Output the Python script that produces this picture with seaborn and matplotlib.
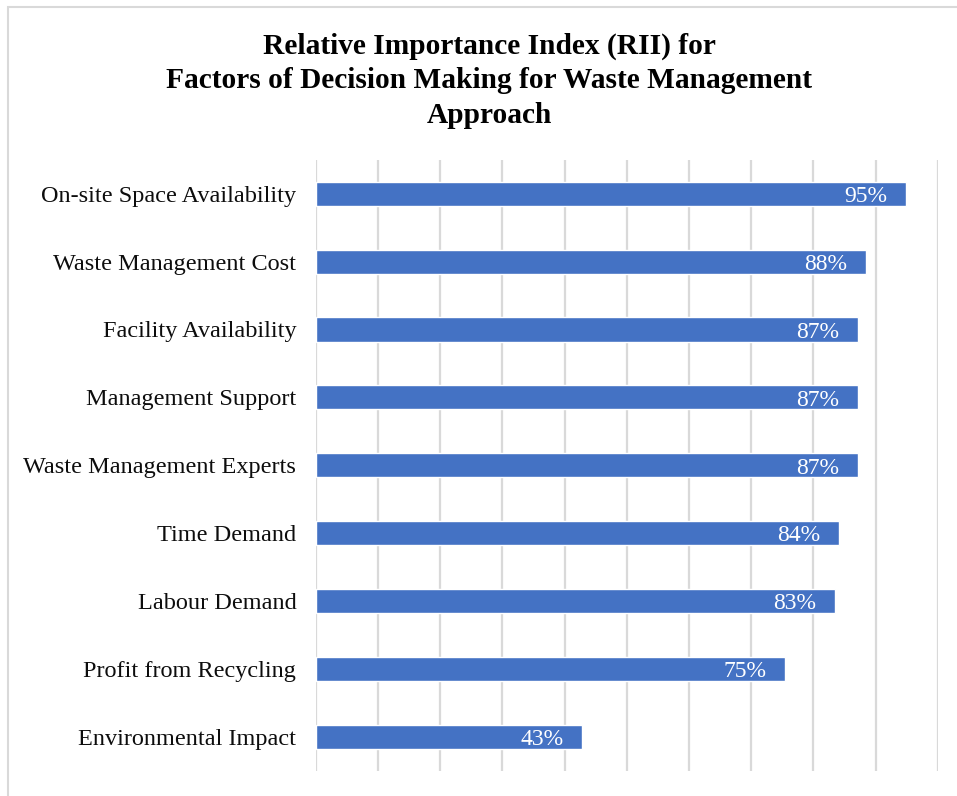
import pandas as pd
import seaborn as sns
import matplotlib.pyplot as plt
from matplotlib.patches import Rectangle

# chart data
factors = ["On-site Space Availability", "Waste Management Cost", "Facility Availability",
           "Management Support", "Waste Management Experts", "Time Demand",
           "Labour Demand", "Profit from Recycling", "Environmental Impact"]
rii = [0.949, 0.884, 0.871, 0.871, 0.871, 0.841, 0.834, 0.755, 0.428]
value_labels = ["95%", "88%", "87%", "87%", "87%", "84%", "83%", "75%", "43%"]

df = pd.DataFrame({"factor": factors, "rii": rii})

sns.set_theme(style="white")
plt.rcParams['font.family'] = ['Liberation Serif', 'DejaVu Serif']

fig = plt.figure(figsize=(9.57, 7.96), dpi=100)
ax = fig.add_axes([0.330, 0.0314, 0.650, 0.768])

sns.barplot(data=df, x="rii", y="factor", color="#4472C4", width=0.355,
            saturation=1, ax=ax, zorder=3)

ax.set_xlim(0, 1.0)
ax.set_ylim(8.5, -0.5)
ax.set_xticks([i / 10 for i in range(11)])
ax.set_xticklabels([])
ax.grid(axis="x", color="#d9d9d9", linewidth=1.6, zorder=0)
ax.grid(axis="y", visible=False)
for s in ax.spines.values():
    s.set_visible(False)
ax.tick_params(axis="both", length=0)
ax.set_xlabel("")
ax.set_ylabel("")
for lbl in ax.get_yticklabels():
    lbl.set_fontsize(17.5)
    lbl.set_color("#0d0d0d")
ax.tick_params(axis="y", pad=14)

# value labels inside bars
for i, (v, t) in enumerate(zip(rii, value_labels)):
    ax.text(v - 0.03, i + 0.04, t, ha="right", va="center", color="white", fontsize=17, zorder=4)

fig.text(0.511, 0.899, "Relative Importance Index (RII) for\nFactors of Decision Making for Waste Management\nApproach",
         ha="center", va="center", fontsize=21.2, fontweight="bold", linespacing=1.36,
         color="#000000")

# outer frame
fig.patches.append(Rectangle((8 / 957, -0.1), 1.2, 1.1 - 7 / 796, transform=fig.transFigure,
                             fill=False, edgecolor="#d9d9d9", linewidth=1.5))

fig.savefig("out.png", dpi=100)
